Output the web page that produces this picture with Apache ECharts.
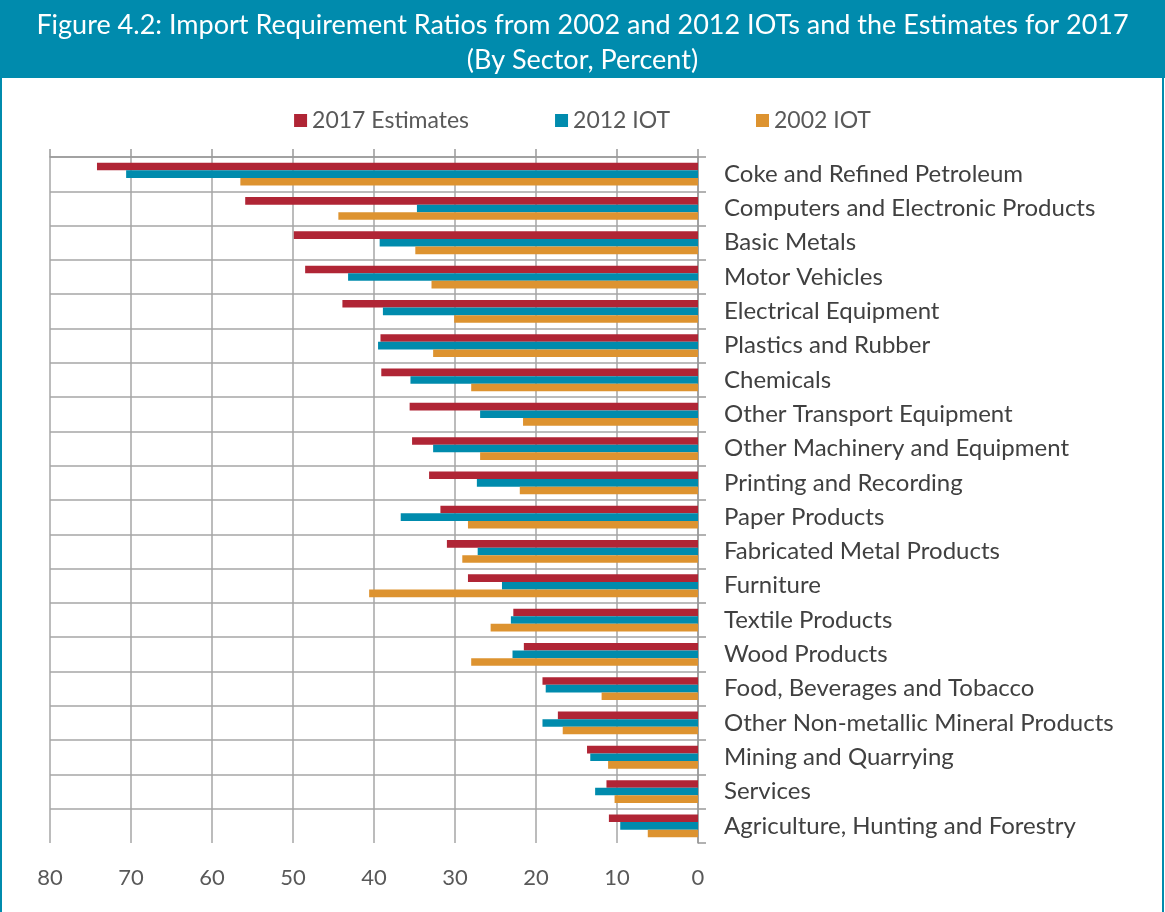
<!DOCTYPE html>
<html>
<head>
<meta charset="utf-8">
<script src="https://cdn.jsdelivr.net/npm/echarts@6/dist/echarts.min.js"></script>
<style>
html,body{margin:0;padding:0;background:#fff;}
#c{width:1165px;height:912px;}
</style>
</head>
<body>
<div id="c"></div>
<script>
const categories = [
  "Coke and Refined Petroleum",
  "Computers and Electronic Products",
  "Basic Metals",
  "Motor Vehicles",
  "Electrical Equipment",
  "Plastics and Rubber",
  "Chemicals",
  "Other Transport Equipment",
  "Other Machinery and Equipment",
  "Printing and Recording",
  "Paper Products",
  "Fabricated Metal Products",
  "Furniture",
  "Textile Products",
  "Wood Products",
  "Food, Beverages and Tobacco",
  "Other Non-metallic Mineral Products",
  "Mining and Quarrying",
  "Services",
  "Agriculture, Hunting and Forestry"
];
const est2017 = [74.2, 55.9, 49.9, 48.5, 43.9, 39.2, 39.1, 35.6, 35.3, 33.2, 31.8, 31.0, 28.4, 22.8, 21.5, 19.2, 17.3, 13.7, 11.3, 11.0];
const iot2012 = [70.6, 34.7, 39.3, 43.2, 38.9, 39.5, 35.5, 26.9, 32.7, 27.3, 36.7, 27.2, 24.2, 23.1, 22.9, 18.8, 19.2, 13.3, 12.7, 9.6];
const iot2002 = [56.5, 44.4, 34.9, 32.9, 30.1, 32.7, 28.0, 21.6, 26.9, 22.0, 28.4, 29.1, 40.6, 25.6, 28.0, 11.9, 16.7, 11.1, 10.3, 6.2];
const seriesNames = ["2017 Estimates", "2012 IOT", "2002 IOT"];
const xTicks = {min: 0, max: 80, interval: 10};

const TEAL = '#008BAD', RED = '#B02535', ORANGE = '#DD9330';
const GRID = '#A6A6A6';
const FONT = 'Lato';

const chart = echarts.init(document.getElementById('c'), null, {renderer: 'canvas'});
const barW = 7.6;
chart.setOption({
  animation: false,
  backgroundColor: '#fff',
  textStyle: {fontFamily: FONT},
  graphic: [
    {type: 'rect', z: -10, shape: {x: 0, y: 0, width: 1165, height: 78}, style: {fill: TEAL}},
    {type: 'rect', z: -10, shape: {x: 1, y: 1, width: 1162, height: 920}, style: {fill: 'none', stroke: TEAL, lineWidth: 2}}
  ],
  title: {
    text: 'Figure 4.2: Import Requirement Ratios from 2002 and 2012 IOTs and the Estimates for 2017\n(By Sector, Percent)',
    left: 'center', top: 3,
    textStyle: {color: '#fff', fontSize: 27, fontWeight: 'normal', lineHeight: 35, fontFamily: FONT, align: 'center'}
  },
  legend: {
    data: seriesNames,
    top: 104, left: 'center',
    icon: 'rect', itemWidth: 13, itemHeight: 13, itemGap: 86,
    textStyle: {color: '#595959', fontSize: 23, fontFamily: FONT}
  },
  grid: {left: 50, right: 467, top: 157, bottom: 69, containLabel: false},
  xAxis: [
    {
      type: 'value', inverse: true, position: 'bottom',
      min: xTicks.min, max: xTicks.max, interval: xTicks.interval,
      axisLine: {show: false}, axisTick: {show: false},
      axisLabel: {color: '#595959', fontSize: 22, margin: 24, fontFamily: FONT},
      splitLine: {show: true, lineStyle: {color: GRID, width: 1.5}}
    },
    {
      type: 'value', inverse: true, position: 'top',
      min: xTicks.min, max: xTicks.max, interval: xTicks.interval,
      axisLine: {show: true, lineStyle: {color: '#999', width: 1.5}},
      axisTick: {show: true, length: 8, lineStyle: {color: '#999', width: 1.5}},
      axisLabel: {show: false}, splitLine: {show: false}
    }
  ],
  yAxis: {
    type: 'category', data: categories, inverse: true, position: 'right',
    axisLine: {show: true, lineStyle: {color: '#999', width: 1.5}},
    axisTick: {show: true, length: 8, lineStyle: {color: '#999', width: 1.5}},
    axisLabel: {color: '#404040', fontSize: 24, margin: 26, fontFamily: FONT},
    splitLine: {show: true, showMaxLine: false, lineStyle: {color: GRID, width: 1.5}}
  },
  series: [
    {name: seriesNames[0], type: 'bar', data: est2017, barWidth: barW, barGap: '0%', itemStyle: {color: RED}},
    {name: seriesNames[1], type: 'bar', data: iot2012, barWidth: barW, barGap: '0%', itemStyle: {color: TEAL}},
    {name: seriesNames[2], type: 'bar', data: iot2002, barWidth: barW, barGap: '0%', itemStyle: {color: ORANGE}}
  ]
});
</script>
</body>
</html>
